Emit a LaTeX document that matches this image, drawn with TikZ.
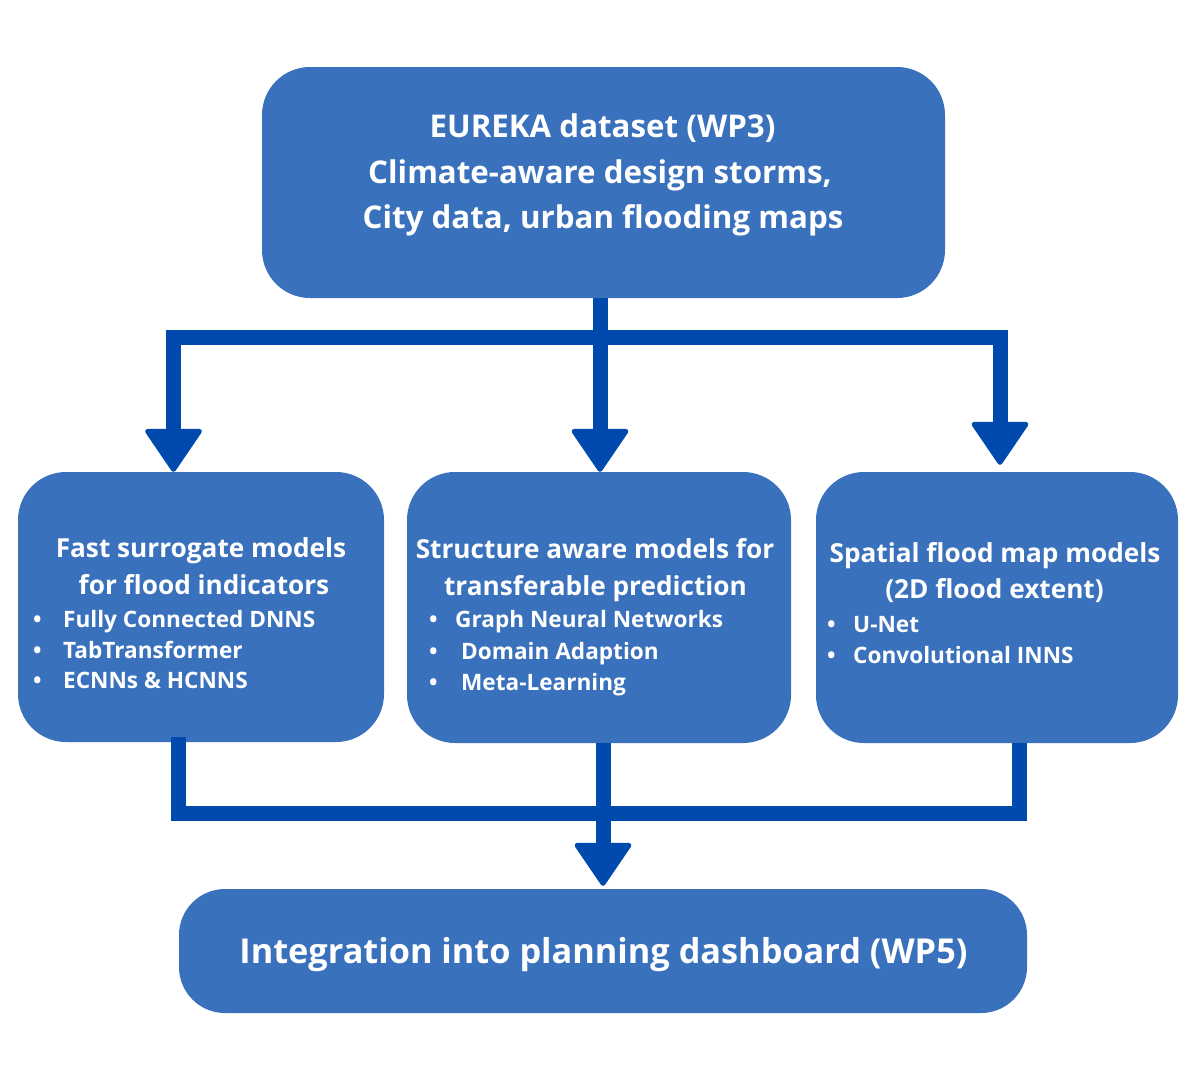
\documentclass[tikz,border=0pt]{standalone}
\usepackage{fontspec}
\setmainfont{Open Sans}
\usetikzlibrary{arrows.meta}
\definecolor{boxblue}{HTML}{3A71BC}
\definecolor{lineblue}{HTML}{004AAD}
\begin{document}
\begin{tikzpicture}[x=1pt,y=-1pt,
  box/.style={fill=boxblue, draw=none, rounded corners=48pt, inner sep=0pt},
  conn/.style={draw=lineblue, line width=15pt},
  arrowhd/.style={-{Triangle[width=60pt,length=45pt,round,line width=5pt]}},
  toptxt/.style={text=white, inner sep=0pt, anchor=base, font=\fontsize{31.3}{36}\selectfont\bfseries},
  ttl/.style={text=white, inner sep=0pt, anchor=base, font=\fontsize{26.2}{30}\selectfont\bfseries},
  itm/.style={text=white, inner sep=0pt, anchor=base west, font=\fontsize{22.6}{27}\selectfont\bfseries},
  bottxt/.style={text=white, inner sep=0pt, anchor=base, font=\fontsize{34.3}{40}\selectfont\bfseries}
]
\useasboundingbox[fill=white] (0,0) rectangle (1200,1080);

% boxes
\node[box, minimum width=683pt, minimum height=231pt] (top) at (603.5,182.5) {};
\node[box, minimum width=366pt, minimum height=270pt] (left) at (201,607) {};
\node[box, minimum width=384pt, minimum height=271pt] (mid) at (599,607.5) {};
\node[box, minimum width=362pt, minimum height=271pt] (right) at (997,607.5) {};
\node[box, rounded corners=46pt, minimum width=848pt, minimum height=124pt] (bot) at (603,951) {};

% top text
\node[toptxt] (t1) at (602.5,137) {EUREKA dataset (WP3)};
\node[toptxt] (t2) at (600,183) {Climate-aware design storms,};
\node[toptxt] (t3) at (603,228) {City data, urban flooding maps};

% left text
\node[ttl] (l1) at (201,557) {Fast surrogate models};
\node[ttl] (l2) at (204,594) {for flood indicators};
\node[itm] (la) at (33,627) {\makebox[30pt][l]{•}Fully Connected DNNS};
\node[itm] (lb) at (33,658) {\makebox[30pt][l]{•}TabTransformer};
\node[itm] (lc) at (33,688) {\makebox[30pt][l]{•}ECNNs \& HCNNS};

% middle text
\node[ttl] (m1) at (595,558) {Structure aware models for};
\node[ttl] (m2) at (595.5,595) {transferable prediction};
\node[itm] (ma) at (429,627) {\makebox[26pt][l]{•}Graph Neural Networks};
\node[itm] (mb) at (429,659) {\makebox[32pt][l]{•}Domain Adaption};
\node[itm] (mc) at (429,690) {\makebox[32pt][l]{•}Meta-Learning};

% right text
\node[ttl] (r1) at (995,562) {Spatial flood map models};
\node[ttl] (r2) at (994.5,598) {(2D flood extent)};
\node[itm] (ra) at (827,632) {\makebox[26pt][l]{•}U-Net};
\node[itm] (rb) at (827,663) {\makebox[26pt][l]{•}Convolutional INNS};

% bottom text
\node[bottxt] (b1) at (603.5,963) {Integration into planning dashboard (WP5)};

% junction coordinates
\coordinate (jl) at (173.5,337);
\coordinate (jm) at (600,337);
\coordinate (jr) at (1000,337);
\coordinate (bl) at (178.5,813);
\coordinate (bm) at (603,813);
\coordinate (br) at (1019.5,813);

% top connectors
\draw[conn, {Triangle[width=60pt,length=45pt,round,line width=5pt]}-{Triangle[width=60pt,length=45pt,round,line width=5pt]}, shorten >=7pt]
  (jl |- left.north) -- (jl) -- (jr) -- (jr |- right.north);
\draw[conn, arrowhd] (jm |- top.south) -- (jm |- mid.north);

% bottom connectors
\draw[conn] ([yshift=5pt]bl |- left.south) -- (bl) -- (br) -- (br |- right.south);
\draw[conn, arrowhd, shorten >=3pt] (bm |- mid.south) -- (bm |- bot.north);
\end{tikzpicture}
\end{document}
